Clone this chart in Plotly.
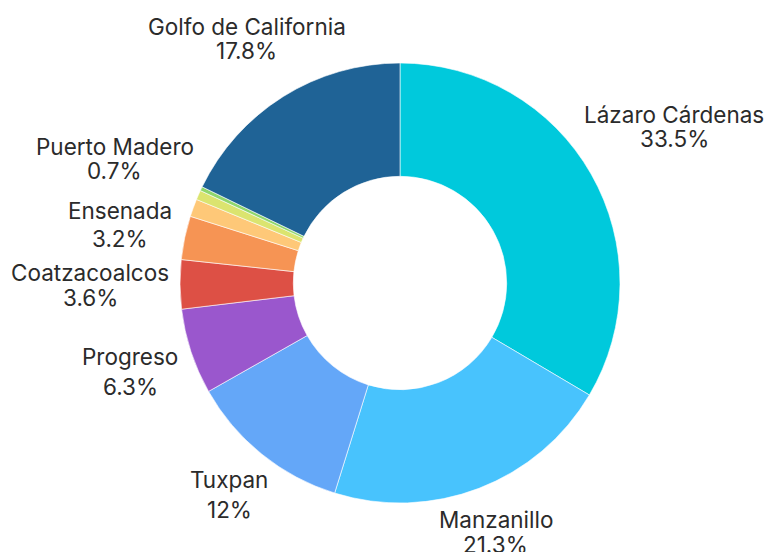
import math
import plotly.graph_objects as go

labels = ["Lázaro Cárdenas", "Manzanillo", "Tuxpan", "Progreso", "Coatzacoalcos",
          "Ensenada", "Otro puerto A", "Puerto Madero", "Otro puerto B", "Golfo de California"]
values = [33.5, 21.3, 12.0, 6.3, 3.6, 3.2, 1.3, 0.7, 0.3, 17.8]
show_label = [True, True, True, True, True, True, False, True, False, True]
colors = ["#00c9dc", "#48c3fd", "#64a7f8", "#9a57cd", "#dd5045",
          "#f69454", "#fec878", "#dbe46f", "#8fd66d", "#1f6396"]

# layout of the outside labels (distance from centre in px, gap between the two lines)
label_radius = [316, 267, 272, 284, 310, 286, 0, 311, 0, 289]
line_gap = [24, 25, 30, 30, 25, 28, 0, 24, 0, 24]

W, H = 767, 552
cx, cy, R = 400, 283, 220

fig = go.Figure(go.Pie(
    labels=labels,
    values=values,
    sort=False,
    direction="clockwise",
    rotation=0,
    hole=0.485,
    marker=dict(colors=colors, line=dict(color="white", width=0.6)),
    textinfo="none",
    showlegend=False,
    automargin=False,
    hoverinfo="label+percent",
    domain=dict(x=[(cx - R) / W, (cx + R) / W], y=[(H - cy - R) / H, (H - cy + R) / H]),
))

total = sum(values)
cum = 0.0
annotations = []
font = dict(family="Inter", size=22.5, color="#2b2b2b")
for lab, v, show, r, gap in zip(labels, values, show_label, label_radius, line_gap):
    mid = (cum + v / 2) / total * 2 * math.pi
    cum += v
    if not show:
        continue
    px = cx + r * math.sin(mid)
    py = cy - r * math.cos(mid)
    pct = v / total * 100
    pct_txt = f"{pct:.1f}".rstrip("0").rstrip(".") + "%"
    for txt, dy in ((lab, -gap / 2), (pct_txt, gap / 2)):
        annotations.append(dict(
            x=px / W, y=1 - (py + dy) / H, xref="paper", yref="paper",
            text=txt, showarrow=False, xanchor="center", yanchor="middle",
            font=font,
        ))

fig.update_layout(
    width=W, height=H,
    margin=dict(l=0, r=0, t=0, b=0),
    paper_bgcolor="white",
    plot_bgcolor="white",
    annotations=annotations,
)

fig.write_html("out.html")
